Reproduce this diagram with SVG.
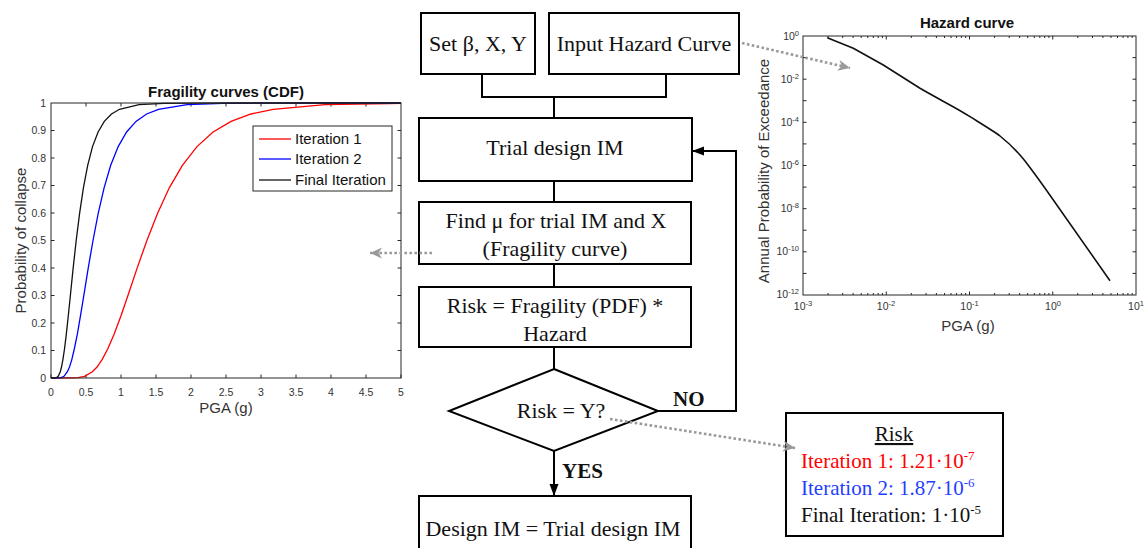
<svg xmlns="http://www.w3.org/2000/svg" width="1146" height="548" viewBox="0 0 1146 548">
<style>
.box{fill:#fff;stroke:#000;stroke-width:2}
.ft{font-family:"Liberation Serif","Times New Roman",serif;font-size:22px;fill:#111;text-anchor:middle}
.lbl{font-family:"Liberation Serif","Times New Roman",serif;font-size:21px;font-weight:bold;fill:#111}
.conn{fill:none;stroke:#000;stroke-width:2}
.dot{fill:none;stroke:#9a9a9a;stroke-width:2.6;stroke-dasharray:2.6 2.4}
.ax{fill:none;stroke:#262626;stroke-width:1}
.tk{font-family:"Liberation Sans",Arial,sans-serif;font-size:10.5px;fill:#333}
.axl{font-family:"Liberation Sans",Arial,sans-serif;font-size:15px;fill:#333;text-anchor:middle}
.ttl{font-family:"Liberation Sans",Arial,sans-serif;font-size:15px;font-weight:bold;fill:#111;text-anchor:middle}
.leg{font-family:"Liberation Sans",Arial,sans-serif;font-size:15px;fill:#111}
.rk{font-family:"Liberation Serif","Times New Roman",serif;font-size:21px}
</style>
<defs>
<marker id="ah" markerUnits="userSpaceOnUse" markerWidth="13" markerHeight="10" refX="12" refY="4.5" orient="auto">
<path d="M0,0 L12,4.5 L0,9 z" fill="#000"/>
</marker>
<marker id="gh" markerUnits="userSpaceOnUse" markerWidth="14" markerHeight="12" refX="12" refY="5.5" orient="auto">
<path d="M0,0 L12,5.5 L0,11 L3.5,5.5 z" fill="#9a9a9a"/>
</marker>
</defs>

<!-- Fragility chart -->
<g id="fragility-chart">
<text class="ttl" x="226" y="97">Fragility curves (CDF)</text>
<rect x="51" y="103" width="350" height="275" fill="#fff"/>
<g class="ax">
<path d="M51,378 v-3.5 M86,378 v-3.5 M121,378 v-3.5 M156,378 v-3.5 M191,378 v-3.5 M226,378 v-3.5 M261,378 v-3.5 M296,378 v-3.5 M331,378 v-3.5 M366,378 v-3.5 M401,378 v-3.5
M86,103 v3.5 M121,103 v3.5 M156,103 v3.5 M191,103 v3.5 M226,103 v3.5 M261,103 v3.5 M296,103 v3.5 M331,103 v3.5 M366,103 v3.5
M51,350.5 h3.5 M51,323 h3.5 M51,295.5 h3.5 M51,268 h3.5 M51,240.5 h3.5 M51,213 h3.5 M51,185.5 h3.5 M51,158 h3.5 M51,130.5 h3.5
M401,350.5 h-3.5 M401,323 h-3.5 M401,295.5 h-3.5 M401,268 h-3.5 M401,240.5 h-3.5 M401,213 h-3.5 M401,185.5 h-3.5 M401,158 h-3.5 M401,130.5 h-3.5"/>
</g>
<g class="tk" text-anchor="end">
<text x="46" y="381.5">0</text><text x="46" y="354">0.1</text><text x="46" y="326.5">0.2</text><text x="46" y="299">0.3</text><text x="46" y="271.5">0.4</text><text x="46" y="244">0.5</text><text x="46" y="216.5">0.6</text><text x="46" y="189">0.7</text><text x="46" y="161.5">0.8</text><text x="46" y="134">0.9</text><text x="46" y="106.5">1</text>
</g>
<g class="tk" text-anchor="middle">
<text x="51" y="396">0</text><text x="86" y="396">0.5</text><text x="121" y="396">1</text><text x="156" y="396">1.5</text><text x="191" y="396">2</text><text x="226" y="396">2.5</text><text x="261" y="396">3</text><text x="296" y="396">3.5</text><text x="331" y="396">4</text><text x="366" y="396">4.5</text><text x="401" y="396">5</text>
</g>
<text class="axl" x="226" y="413">PGA (g)</text>
<text class="axl" transform="translate(26,240.5) rotate(-90)" x="0" y="0">Probability of collapse</text>
<polyline fill="none" stroke="#ff0000" stroke-width="1.3" points="51,378 73,377.9 78.2,377.6 84.6,376.3 92.4,371.7 97,367 102.1,359.6 107.7,349 114,334.4 121,315.7 128.7,293.2 137.3,267.6 146.9,240.5 157.5,213.4 169.3,187.8 182.4,165.3 197,146.6 213.1,132 231.1,121.4 251,114 273.1,109.3 325.1,104.7 389.1,103.6 401,103.4"/>
<polyline fill="none" stroke="#0000ff" stroke-width="1.3" points="51,378 59.1,377.9 61.3,377.6 64,376.3 67.4,371.7 69.5,367 71.8,359.6 74.3,349 77.3,334.4 80.5,315.7 84.2,293.2 88.3,267.6 93,240.5 98.2,213.4 104.1,187.8 110.7,165.3 118.2,146.6 126.6,132 136,121.4 146.6,114 158.5,109.3 187,104.7 223,103.4 268.6,103.05 326.1,103 401,103"/>
<polyline fill="none" stroke="#111" stroke-width="1.3" points="51,378 55.4,377.9 56.6,377.6 58.2,376.3 60.3,371.7 61.5,367 62.9,359.6 64.5,349 66.3,334.4 68.3,315.7 70.6,293.2 73.2,267.6 76.2,240.5 79.6,213.4 83.4,187.8 87.7,165.3 92.5,146.6 98.1,132 104.3,121.4 111.5,114 119.5,109.3 139,104.7 163.9,103.4 196,103.05 237.2,103 401,103"/>
<rect class="ax" x="51" y="103" width="350" height="275"/>
<rect x="253" y="126" width="139" height="65" fill="#fff" stroke="#262626" stroke-width="1"/>
<line x1="259" y1="139" x2="291" y2="139" stroke="#ff0000" stroke-width="1.3"/>
<line x1="259" y1="159" x2="291" y2="159" stroke="#0000ff" stroke-width="1.3"/>
<line x1="259" y1="180" x2="291" y2="180" stroke="#111" stroke-width="1.3"/>
<text class="leg" x="295" y="144">Iteration 1</text>
<text class="leg" x="295" y="164">Iteration 2</text>
<text class="leg" x="295" y="185">Final Iteration</text>
</g>

<!-- Hazard chart -->
<g id="hazard-chart">
<text class="ttl" x="967" y="28" font-size="14">Hazard curve</text>
<rect x="803" y="36" width="333" height="259" fill="#fff"/>
<g class="ax">
<path d="M886.25,295 v-3.5 M969.5,295 v-3.5 M1052.75,295 v-3.5 M886.25,36 v3.5 M969.5,36 v3.5 M1052.75,36 v3.5
M828.1,295 v-2 M842.7,295 v-2 M853.1,295 v-2 M861.2,295 v-2 M867.8,295 v-2 M873.3,295 v-2 M878.2,295 v-2 M882.4,295 v-2
M911.3,295 v-2 M926,295 v-2 M936.4,295 v-2 M944.5,295 v-2 M951,295 v-2 M956.6,295 v-2 M961.4,295 v-2 M965.7,295 v-2
M994.6,295 v-2 M1009.2,295 v-2 M1019.6,295 v-2 M1027.7,295 v-2 M1034.3,295 v-2 M1039.8,295 v-2 M1044.7,295 v-2 M1048.9,295 v-2
M1077.8,295 v-2 M1092.5,295 v-2 M1102.9,295 v-2 M1111,295 v-2 M1117.5,295 v-2 M1123.1,295 v-2 M1127.9,295 v-2 M1132.2,295 v-2
M828.1,36 v2 M842.7,36 v2 M853.1,36 v2 M861.2,36 v2 M867.8,36 v2 M873.3,36 v2 M878.2,36 v2 M882.4,36 v2
M911.3,36 v2 M926,36 v2 M936.4,36 v2 M944.5,36 v2 M951,36 v2 M956.6,36 v2 M961.4,36 v2 M965.7,36 v2
M994.6,36 v2 M1009.2,36 v2 M1019.6,36 v2 M1027.7,36 v2 M1034.3,36 v2 M1039.8,36 v2 M1044.7,36 v2 M1048.9,36 v2
M1077.8,36 v2 M1092.5,36 v2 M1102.9,36 v2 M1111,36 v2 M1117.5,36 v2 M1123.1,36 v2 M1127.9,36 v2 M1132.2,36 v2
M803,57.6 h3.5 M803,79.2 h3.5 M803,100.7 h3.5 M803,122.3 h3.5 M803,143.9 h3.5 M803,165.5 h3.5 M803,187.1 h3.5 M803,208.7 h3.5 M803,230.2 h3.5 M803,251.8 h3.5 M803,273.4 h3.5
M1136,57.6 h-3.5 M1136,79.2 h-3.5 M1136,100.7 h-3.5 M1136,122.3 h-3.5 M1136,143.9 h-3.5 M1136,165.5 h-3.5 M1136,187.1 h-3.5 M1136,208.7 h-3.5 M1136,230.2 h-3.5 M1136,251.8 h-3.5 M1136,273.4 h-3.5"/>
</g>
<g class="tk" text-anchor="end" font-size="10">
<text x="799" y="40">10<tspan font-size="7.5" dy="-4">0</tspan></text>
<text x="799" y="83">10<tspan font-size="7.5" dy="-4">-2</tspan></text>
<text x="799" y="126">10<tspan font-size="7.5" dy="-4">-4</tspan></text>
<text x="799" y="169">10<tspan font-size="7.5" dy="-4">-6</tspan></text>
<text x="799" y="212">10<tspan font-size="7.5" dy="-4">-8</tspan></text>
<text x="799" y="255">10<tspan font-size="7.5" dy="-4">-10</tspan></text>
<text x="799" y="298">10<tspan font-size="7.5" dy="-4">-12</tspan></text>
</g>
<g class="tk" text-anchor="middle" font-size="10">
<text x="803" y="310">10<tspan font-size="7.5" dy="-4">-3</tspan></text>
<text x="886" y="310">10<tspan font-size="7.5" dy="-4">-2</tspan></text>
<text x="969.5" y="310">10<tspan font-size="7.5" dy="-4">-1</tspan></text>
<text x="1053" y="310">10<tspan font-size="7.5" dy="-4">0</tspan></text>
<text x="1136" y="310">10<tspan font-size="7.5" dy="-4">1</tspan></text>
</g>
<text class="axl" x="968" y="331">PGA (g)</text>
<text class="axl" transform="translate(769,171) rotate(-90)" x="0" y="0" font-size="14">Annual Probability of Exceedance</text>
<path fill="none" stroke="#111" stroke-width="1.6" stroke-linejoin="round" d="M827.3,37.7 L853.3,48.3 L883.3,65 L920,88.3 C940,100 955,107 970,116.7 C985,126 995,132 1000,136 C1010,144 1018,152 1025,161 C1035,174 1042,184 1047,191 L1110,280.7"/>
<rect class="ax" x="803" y="36" width="333" height="259"/>
</g>

<!-- Flowchart nodes -->
<g id="set-params">
<rect class="box" x="421" y="13" width="114" height="61"/>
<text class="ft" x="478" y="51">Set β, X, Y</text>
</g>
<g id="input-hazard">
<rect class="box" x="549" y="13" width="190" height="61"/>
<text class="ft" x="644" y="51">Input Hazard  Curve</text>
</g>
<g id="trial-im">
<rect class="box" x="419" y="118" width="273" height="63"/>
<text class="ft" x="555" y="155">Trial design IM</text>
</g>
<g id="find-mu">
<rect class="box" x="419" y="202" width="272" height="62"/>
<text class="ft" x="556" y="228">Find μ for trial IM and X</text>
<text class="ft" x="555" y="256">(Fragility curve)</text>
</g>
<g id="risk-calc">
<rect class="box" x="419" y="287" width="272" height="60"/>
<text class="ft" x="555" y="313">Risk = Fragility (PDF) *</text>
<text class="ft" x="555" y="341">Hazard</text>
</g>
<g id="decision">
<polygon class="box" points="554,369 658,411 554,451 449,411"/>
<text class="ft" x="561" y="418">Risk = Y?</text>
</g>
<g id="design-im">
<rect class="box" x="419" y="496" width="272" height="70"/>
<text class="ft" x="553" y="536">Design IM = Trial design IM</text>
</g>
<g id="risk-box">
<rect class="box" x="786" y="413" width="217" height="123"/>
<text class="rk" x="894" y="441" text-anchor="middle" fill="#111" text-decoration="underline">Risk</text>
<text class="rk" x="801" y="468" fill="#ff0000">Iteration 1: 1.21·10<tspan font-size="13" dy="-8">-7</tspan></text>
<text class="rk" x="801" y="495" fill="#1f3fff">Iteration 2: 1.87·10<tspan font-size="13" dy="-8">-6</tspan></text>
<text class="rk" x="801" y="522" fill="#111">Final Iteration: 1·10<tspan font-size="13" dy="-8">-5</tspan></text>
</g>

<!-- Connectors -->
<g id="connectors">
<path class="conn" d="M482,74 V97 M666,74 V97 M481,97 H667 M554,97 V118"/>
<path class="conn" d="M554,181 V202 M554,264 V287 M554,347 V369"/>
<path class="conn" d="M658,411 H736 V151 H692" marker-end="url(#ah)"/>
<path class="conn" d="M554,451 V496" marker-end="url(#ah)"/>
<text class="lbl" x="673" y="406">NO</text>
<text class="lbl" x="562" y="478">YES</text>
<path class="dot" d="M742,43 L850,68" marker-end="url(#gh)"/>
<path class="dot" d="M432,253 L370,253" marker-end="url(#gh)"/>
<path class="dot" d="M610,419 L795,448" marker-end="url(#gh)"/>
</g>
</svg>
